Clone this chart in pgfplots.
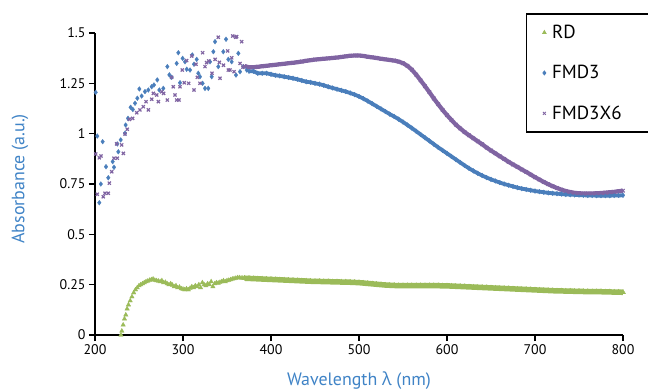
\documentclass[border=0pt]{standalone}
\usepackage{pgfplots}
\pgfplotsset{compat=1.18}
\usepackage{pgfplotstable}
\usepackage{fontspec}
\setmainfont{PT Sans}
\newfontfamily\grk{Open Sans}
\definecolor{rdgreen}{HTML}{9BBB59}
\definecolor{fmdblue}{HTML}{4A7EBB}
\definecolor{fmdpurple}{HTML}{8064A2}
\definecolor{labblue}{HTML}{3F83C6}

\pgfplotstableread{
x y
229.5 0.0
230.5 0.02
232 0.05
233.5 0.08
235 0.10
236.5 0.13
238 0.15
240 0.17
242 0.19
244 0.21
246 0.225
248 0.235
250 0.245
252 0.25
254 0.255
256 0.26
258 0.265
260 0.268
262 0.272
264 0.275
266 0.278
268 0.272
270 0.27
272 0.268
274 0.265
276 0.27
278 0.26
280 0.262
282 0.255
284 0.25
286 0.255
288 0.248
290 0.24
292 0.245
294 0.235
296 0.238
298 0.23
300 0.228
302 0.225
304 0.23
306 0.225
308 0.232
310 0.24
312 0.235
314 0.245
316 0.24
318 0.25
320 0.235
322 0.26
324 0.25
326 0.245
328 0.255
330 0.25
332 0.265
334 0.24
336 0.255
338 0.26
340 0.258
342 0.262
344 0.265
346 0.27
348 0.265
350 0.27
352 0.272
354 0.275
356 0.278
358 0.28
360 0.282
362 0.285
364 0.285
366 0.283
368 0.283
370 0.282
}\rdnoisy

\pgfplotstableread{
x y
370 0.282
375 0.281
380 0.280
385 0.279
390 0.278
395 0.277
400 0.276
405 0.275
410 0.274
415 0.273
420 0.272
425 0.271
430 0.270
435 0.269
440 0.268
445 0.267
450 0.266
455 0.266
460 0.265
465 0.265
470 0.264
475 0.264
480 0.263
485 0.263
490 0.262
495 0.261
500 0.260
505 0.258
510 0.256
515 0.254
520 0.252
525 0.250
530 0.248
535 0.247
540 0.246
545 0.245
550 0.245
555 0.245
560 0.245
565 0.245
570 0.245
575 0.245
580 0.245
585 0.245
590 0.245
595 0.244
600 0.244
605 0.243
610 0.242
615 0.241
620 0.240
625 0.239
630 0.238
635 0.237
640 0.236
645 0.235
650 0.234
655 0.233
660 0.232
665 0.231
670 0.230
675 0.229
680 0.228
685 0.227
690 0.226
695 0.225
700 0.224
705 0.223
710 0.222
715 0.221
720 0.220
725 0.219
730 0.219
735 0.218
740 0.218
745 0.217
750 0.217
755 0.216
760 0.216
765 0.215
770 0.215
775 0.215
780 0.214
785 0.214
790 0.213
795 0.213
800 0.212
}\rdsmooth

\pgfplotstableread{
x y
200.8 1.205
202.6 0.988
204.9 0.657
206.6 0.75
208.7 0.96
212.5 0.836
215.1 0.781
220.1 0.861
221.6 0.833
225.3 0.949
226.5 0.91
229.2 0.969
234.1 1.002
234.8 1.043
237.5 1.076
240.5 1.131
243 1.12
245.5 1.151
248.1 1.176
250.4 1.222
253 1.187
256.8 1.209
260.6 1.217
264.4 1.233
267 1.242
270.8 1.267
273.1 1.217
277.6 1.225
282.2 1.333
284.5 1.292
287.1 1.28
292.8 1.349
294.7 1.402
296.6 1.253
299.6 1.374
302.3 1.357
304.2 1.32
308 1.316
310.6 1.391
312.5 1.345
315.6 1.369
317.4 1.30
319.3 1.283
322.3 1.25
325 1.225
328.7 1.225
330.7 1.357
332.6 1.283
334.5 1.407
336.4 1.457
340.1 1.333
345.8 1.407
348.9 1.469
351.5 1.369
355.3 1.357
360.2 1.291
362.9 1.399
364.8 1.308
368.5 1.333
372.4 1.316
}\fmdnoisy

\pgfplotstableread{
x y
375 1.31
380 1.31
385 1.30
390 1.30
395 1.30
400 1.295
405 1.29
410 1.287
415 1.283
420 1.279
425 1.275
430 1.27
435 1.264
440 1.258
445 1.255
450 1.25
455 1.246
460 1.24
465 1.233
470 1.227
475 1.221
480 1.215
485 1.209
490 1.202
495 1.194
500 1.185
505 1.174
510 1.162
515 1.149
520 1.136
525 1.123
530 1.11
535 1.097
540 1.085
545 1.072
550 1.058
555 1.043
560 1.028
565 1.012
570 0.996
575 0.98
580 0.964
585 0.948
590 0.932
595 0.917
600 0.902
605 0.887
610 0.872
615 0.857
620 0.842
625 0.828
630 0.815
635 0.803
640 0.792
645 0.782
650 0.773
655 0.765
660 0.757
665 0.750
670 0.744
675 0.738
680 0.732
685 0.727
690 0.723
695 0.719
700 0.715
705 0.712
710 0.709
715 0.706
720 0.704
725 0.702
730 0.700
735 0.698
740 0.697
745 0.696
750 0.695
755 0.694
760 0.693
765 0.693
770 0.692
775 0.692
780 0.692
785 0.692
790 0.693
795 0.693
800 0.694
}\fmdsmooth

\pgfplotstableread{
x y
200.8 0.899
202.6 0.699
204.9 0.88
206.8 0.889
209.4 0.687
211.4 0.704
215.1 0.704
216.3 0.754
219 0.811
221.6 0.878
224.6 0.949
225.4 0.878
230.3 0.944
232.2 0.902
234.1 0.998
236.7 1.022
239 1.071
242.8 1.076
247.4 1.104
251.1 1.118
254.9 1.134
258 1.159
260.6 1.118
264.4 1.171
266.3 1.2
270.1 1.192
272 1.159
275.8 1.208
278 1.20
282.2 1.167
287.1 1.28
289 1.233
290.9 1.192
292.8 1.167
295.5 1.167
296.6 1.233
299.2 1.316
301.5 1.253
304.2 1.363
306.5 1.25
309.9 1.386
312.5 1.217
314.8 1.345
316.3 1.28
319.3 1.25
322.3 1.402
325 1.333
326.9 1.353
329.2 1.361
333 1.30
336.4 1.369
340.1 1.479
341.3 1.354
342 1.275
346 1.34
350.8 1.411
351.5 1.316
353.4 1.316
355.3 1.377
356.5 1.485
358 1.308
359.9 1.479
361 1.482
364.8 1.349
366.7 1.457
368 1.33
}\pnoisy

\pgfplotstableread{
x y
370 1.335
375 1.33
380 1.33
385 1.332
390 1.335
395 1.337
400 1.34
405 1.342
410 1.345
415 1.347
420 1.35
425 1.352
430 1.355
435 1.358
440 1.362
445 1.365
450 1.368
455 1.37
460 1.372
465 1.374
470 1.376
475 1.378
480 1.381
485 1.384
490 1.387
495 1.388
500 1.388
505 1.386
510 1.382
515 1.379
520 1.376
525 1.372
530 1.369
535 1.366
540 1.363
545 1.358
550 1.35
555 1.337
560 1.318
565 1.293
570 1.265
575 1.236
580 1.206
585 1.175
590 1.146
595 1.118
600 1.092
605 1.068
610 1.045
615 1.026
620 1.008
625 0.992
630 0.977
635 0.962
640 0.947
645 0.931
650 0.916
655 0.902
660 0.888
665 0.874
670 0.86
675 0.847
680 0.835
685 0.822
690 0.81
695 0.797
700 0.784
705 0.772
710 0.76
715 0.749
720 0.739
725 0.73
730 0.722
735 0.715
740 0.71
745 0.706
750 0.704
755 0.703
760 0.703
765 0.703
770 0.704
775 0.705
780 0.707
785 0.709
790 0.711
795 0.714
800 0.717
}\psmooth

\begin{document}
\begin{tikzpicture}
\begin{axis}[
  name=ax, at={(0,0)}, anchor=south west,
  scale only axis, width=528bp, height=302bp,
  xmin=200, xmax=800, ymin=0, ymax=1.5,
  clip=false,
  axis lines*=left,
  axis line style={line width=1.6bp, -},
  tick align=outside, major tick length=6bp,
  tick style={line width=1.6bp, black},
  xtick={200,300,400,500,600,700,800},
  xticklabels={200,300,400,500,600,700,800},
  ytick={0,0.25,0.5,0.75,1,1.25,1.5},
  yticklabels={0,0.25,0.5,0.75,1,1.25,1.5},
  /pgf/number format/assume math mode=true,
  ticklabel style={font=\fontsize{14}{16}\selectfont},
  xlabel={Wavelength {\grk λ} (nm)},
  ylabel={Absorbance (a.u.)},
  label style={font=\fontsize{18}{20}\selectfont, text=labblue},
  xlabel style={at={(axis description cs:0.5,-0.152)}, anchor=center},
  ylabel style={at={(axis description cs:-0.142,0.517)}, anchor=center},
  legend style={at={(axis description cs:0.816,1.066)}, anchor=north west,
    draw=black, line width=1.6bp, font=\fontsize{19}{22}\selectfont,
    row sep=21bp, inner xsep=16bp, inner ysep=9bp, column sep=4bp,
    nodes={text depth=2bp}},
  legend cell align=left,
  legend image code/.code={\draw[mark repeat=2,mark phase=2,#1,mark size=2bp,mark options={line width=0.8bp}] plot coordinates {(0bp,0bp) (5bp,0bp) (10bp,0bp)};},
]
\addplot[only marks, mark=triangle*, mark size=2.6bp, color=rdgreen, mark options={line width=0.3bp}] table {\rdnoisy};
\addlegendentry{RD}
\addplot[forget plot, line width=5.5bp, color=rdgreen, mark=triangle*, mark size=3bp, mark options={line width=0.3bp}] table {\rdsmooth};
\addplot[only marks, mark=diamond*, mark size=2.4bp, color=fmdblue, mark options={line width=0.3bp}] table {\fmdnoisy};
\addlegendentry{FMD3}
\addplot[forget plot, line width=3.8bp, color=fmdblue, mark=diamond*, mark size=2.4bp, mark options={line width=0.3bp}] table {\fmdsmooth};
\addplot[only marks, mark=x, mark size=2.2bp, color=fmdpurple, mark options={line width=1.2bp}] table {\pnoisy};
\addlegendentry{FMD3X6\hspace*{18bp}}
\addplot[forget plot, line width=4.2bp, color=fmdpurple, mark=x, mark size=2.4bp, mark options={line width=1.2bp}] table {\psmooth};
\end{axis}
\pgfresetboundingbox
\path[use as bounding box] ([shift={(-95bp,-56bp)}]ax.south west) rectangle ([shift={(553bp,335bp)}]ax.south west);
\end{tikzpicture}
\end{document}
